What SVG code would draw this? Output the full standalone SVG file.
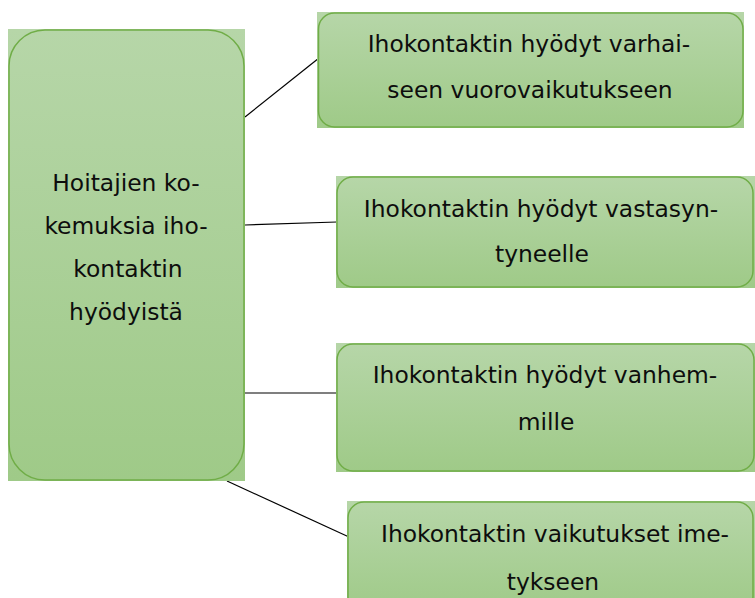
<svg xmlns="http://www.w3.org/2000/svg" width="755" height="598" viewBox="0 0 755 598">
  <defs>
    <linearGradient id="greenFill" x1="0" y1="0" x2="0" y2="1">
      <stop offset="0" stop-color="#b6d6a8"/>
      <stop offset="1" stop-color="#9fca88"/>
    </linearGradient>
  </defs>
  <style>
    .bg { fill: url(#greenFill); }
    .frame { fill: url(#greenFill); stroke: #70ad47; stroke-width: 1.5; }
    .label { font-family: "DejaVu Sans", Tahoma, sans-serif; font-size: 23.4px; fill: #0d0d0d; text-anchor: middle; }
    .link { stroke: #000000; stroke-width: 1.2; fill: none; }
  </style>

  <rect width="755" height="598" fill="#ffffff"/>

  <!-- connectors -->
  <g id="connectors">
    <line class="link" x1="245" y1="117" x2="319" y2="58"/>
    <line class="link" x1="245" y1="225" x2="337" y2="222"/>
    <line class="link" x1="245" y1="393" x2="337" y2="393"/>
    <line class="link" x1="227" y1="481" x2="349" y2="537"/>
  </g>

  <!-- central topic -->
  <g id="node-root">
    <rect class="bg" x="8" y="29" width="237" height="452"/>
    <rect class="frame" x="9" y="30" width="235" height="450" rx="36" ry="36"/>
    <text class="label" x="126" y="191">Hoitajien ko-</text>
    <text class="label" x="126" y="234">kemuksia iho-</text>
    <text class="label" x="128" y="277">kontaktin</text>
    <text class="label" x="126" y="320">hyödyistä</text>
  </g>

  <g id="node-interaction">
    <rect class="bg" x="317" y="12" width="427" height="116"/>
    <rect class="frame" x="318.5" y="13" width="424.5" height="114" rx="16" ry="16"/>
    <text class="label" x="529" y="52">Ihokontaktin hyödyt varhai-</text>
    <text class="label" x="530" y="98">seen vuorovaikutukseen</text>
  </g>

  <g id="node-newborn">
    <rect class="bg" x="336" y="176" width="419" height="112"/>
    <rect class="frame" x="337" y="177" width="416" height="110" rx="16" ry="16"/>
    <text class="label" x="541" y="217">Ihokontaktin hyödyt vastasyn-</text>
    <text class="label" x="542" y="262">tyneelle</text>
  </g>

  <g id="node-parents">
    <rect class="bg" x="336" y="343" width="419" height="129"/>
    <rect class="frame" x="337" y="344" width="417" height="127" rx="16" ry="16"/>
    <text class="label" x="545" y="383">Ihokontaktin hyödyt vanhem-</text>
    <text class="label" x="546" y="430">mille</text>
  </g>

  <g id="node-breastfeeding">
    <rect class="bg" x="347" y="501" width="408" height="100"/>
    <rect class="frame" x="348" y="502" width="405" height="110" rx="16" ry="16"/>
    <text class="label" x="555" y="542">Ihokontaktin vaikutukset ime-</text>
    <text class="label" x="553" y="590">tykseen</text>
  </g>
</svg>
